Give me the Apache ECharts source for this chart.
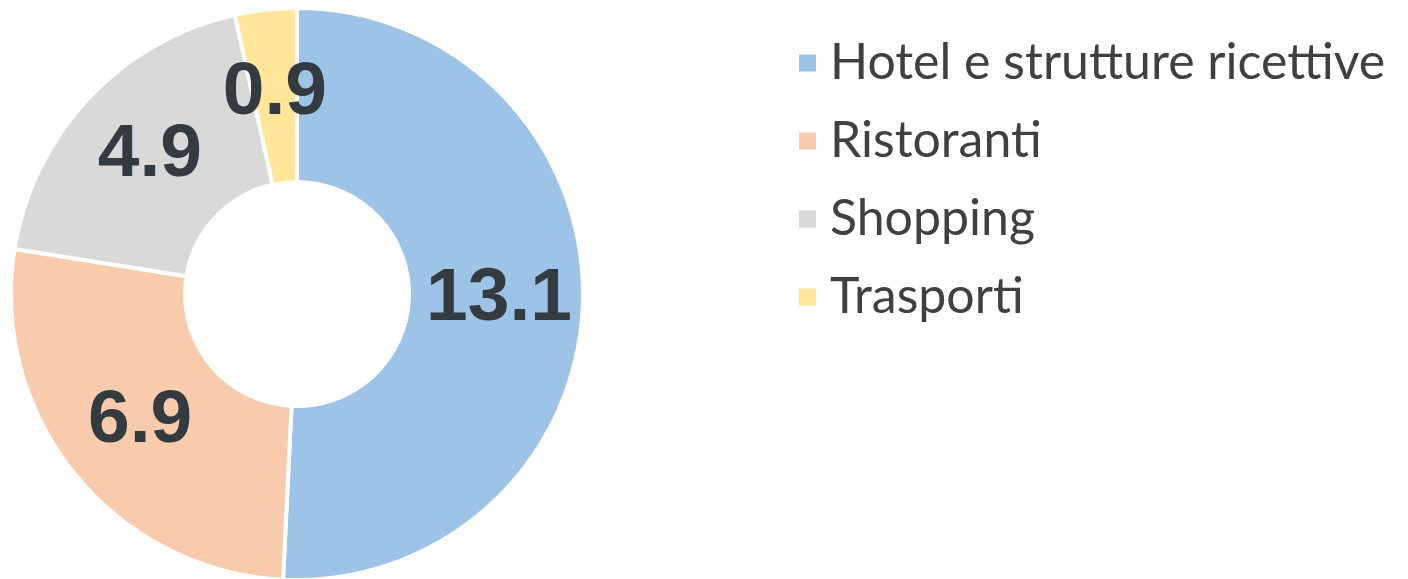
<!DOCTYPE html>
<html>
<head>
<meta charset="utf-8">
<script src="https://cdn.jsdelivr.net/npm/echarts@6/dist/echarts.min.js"></script>
<style>
  html, body { margin: 0; padding: 0; background: #fff; }
  #chart { width: 1408px; height: 579px; }
</style>
</head>
<body>
<div id="chart"></div>
<script>
// dati
var categories = ['Hotel e strutture ricettive', 'Ristoranti', 'Shopping', 'Trasporti'];
var values = [13.1, 6.9, 4.9, 0.9];
var colors = ['#9dc3e6', '#f8cbad', '#d9d9d9', '#ffe699'];

var myChart = echarts.init(document.getElementById('chart'));

myChart.setOption({
    animation: false,
    color: colors,
    legend: {
        orient: 'vertical',
        left: 792,
        top: 32,
        icon: 'rect',
        itemWidth: 19,
        itemHeight: 19,
        itemGap: 26,
        textStyle: {
            fontFamily: 'Lato',
            fontSize: 50,
            lineHeight: 52,
            color: '#404040',
            padding: [0, 0, 0, 8]
        },
        data: categories
    },
    series: [{
        type: 'pie',
        center: [297, 294],
        radius: [112, 286],
        startAngle: 90,
        clockwise: true,
        itemStyle: {
            borderColor: '#fff',
            borderWidth: 4
        },
        label: {
            show: true,
            position: 'inside',
            formatter: '{c}',
            fontFamily: 'Liberation Sans',
            fontWeight: 'bold',
            fontSize: 75,
            color: '#333a40'
        },
        labelLine: { show: false },
        emphasis: { disabled: true },
        data: categories.map(function (name, i) {
            return { name: name, value: values[i] };
        })
    }]
});
</script>
</body>
</html>
